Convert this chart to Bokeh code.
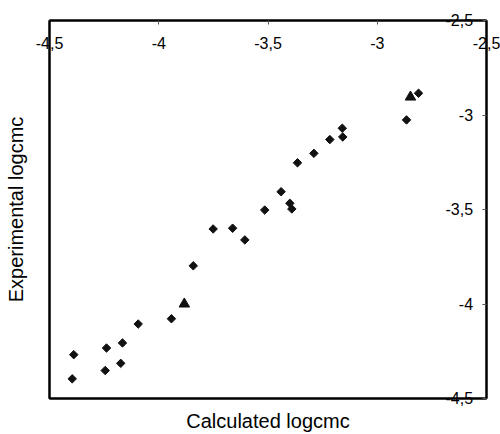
import math
from bokeh.plotting import figure
from bokeh.models import LinearAxis, FixedTicker
from bokeh.embed import file_html
from bokeh.resources import INLINE

# ---- data ----
calc_diamond = [-4.389, -4.396, -4.239, -4.245, -4.166, -4.174, -4.094, -3.942,
                -3.842, -3.751, -3.662, -3.606, -3.515, -3.440, -3.400, -3.391,
                -3.365, -3.290, -3.217, -3.160, -3.158, -2.866, -2.811]
exp_diamond = [-4.268, -4.396, -4.233, -4.352, -4.206, -4.314, -4.106, -4.078,
               -3.798, -3.603, -3.599, -3.661, -3.503, -3.406, -3.467, -3.497,
               -3.253, -3.203, -3.130, -3.070, -3.116, -3.026, -2.885]
calc_triangle = [-3.883, -2.848]
exp_triangle = [-4.000, -2.905]

xticks = [-4.5, -4.0, -3.5, -3.0, -2.5]
xtick_labels = ["-4,5", "-4", "-3,5", "-3", "-2,5"]
yticks = [-4.5, -4.0, -3.5, -3.0, -2.5]
ytick_labels = ["-4,5", "-4", "-3,5", "-3", "-2,5"]

FONT = "Liberation Sans"
NBSP3 = "\u00a0\u00a0\u00a0"   # same advance as ",5" -> right-aligns the labels

p = figure(width=500, height=434, x_range=(-4.5, -2.5), y_range=(-4.5, -2.5),
           output_backend="svg", toolbar_location=None,
           x_axis_location=None, y_axis_location=None,
           min_border_left=49, min_border_right=14,
           min_border_top=20, min_border_bottom=35)
p.grid.visible = False
p.outline_line_color = "black"
p.outline_line_width = 2
p.background_fill_color = "white"
p.border_fill_color = "white"


def style(ax):
    ax.axis_line_color = "black"
    ax.axis_line_width = 2
    ax.minor_tick_line_color = None
    ax.major_label_text_font = FONT
    ax.major_label_text_font_size = "16px"
    ax.major_label_text_color = "black"
    ax.axis_label_text_font = FONT
    ax.axis_label_text_font_size = "20px"
    ax.axis_label_text_font_style = "normal"
    ax.axis_label_text_color = "black"
    return ax


# top edge: x-value axis, ticks and labels inside the frame
xaxis = style(LinearAxis(ticker=FixedTicker(ticks=xticks),
                         major_label_overrides=dict(zip(xticks, xtick_labels))))
xaxis.major_tick_in = 4
xaxis.major_tick_out = 0
xaxis.major_tick_line_color = "#555555"
xaxis.major_label_standoff = -28
p.add_layout(xaxis, "above")

# right edge: y-value axis, ticks and labels inside the frame
ylab = [t if "," in t else NBSP3 + t for t in ytick_labels]
yaxis = style(LinearAxis(ticker=FixedTicker(ticks=yticks),
                         major_label_overrides=dict(zip(yticks, ylab))))
yaxis.major_tick_in = 4
yaxis.major_tick_out = 0
yaxis.major_tick_line_color = "#555555"
yaxis.major_label_standoff = -41
p.add_layout(yaxis, "right")

# bottom edge + title
bottom = style(LinearAxis(ticker=FixedTicker(ticks=[]), axis_label="Calculated logcmc"))
bottom.major_tick_line_color = None
bottom.major_tick_in = 0
bottom.major_tick_out = 0
bottom.major_label_standoff = 0
bottom.axis_label_standoff = 11
p.add_layout(bottom, "below")

# left edge + title
left = style(LinearAxis(ticker=FixedTicker(ticks=[]), axis_label="Experimental logcmc"))
left.major_tick_line_color = None
left.major_tick_in = 0
left.major_tick_out = 0
left.major_label_standoff = 0
left.axis_label_standoff = 23
p.add_layout(left, "left")

# data
p.scatter(calc_diamond, exp_diamond, marker="square", angle=math.pi / 4,
          size=6, fill_color="#111111", line_color="#111111", line_width=1)
p.scatter(calc_triangle, exp_triangle, marker="triangle",
          size=10.5, fill_color="#111111", line_color="#111111", line_width=1)

open("out.html", "w").write(file_html(p, INLINE))
